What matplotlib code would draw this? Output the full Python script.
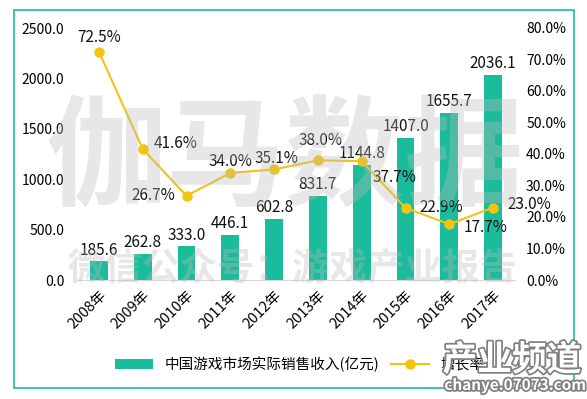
import matplotlib.pyplot as plt
import matplotlib.patheffects as pe
from matplotlib.patches import Rectangle

plt.rcParams['font.family'] = ['Noto Sans CJK SC', 'DejaVu Sans']

years = ["2008年", "2009年", "2010年", "2011年", "2012年",
         "2013年", "2014年", "2015年", "2016年", "2017年"]
revenue = [185.6, 262.8, 333.0, 446.1, 602.8, 831.7, 1144.8, 1407.0, 1655.7, 2036.1]
growth = [72.5, 41.6, 26.7, 34.0, 35.1, 38.0, 37.7, 22.9, 17.7, 23.0]

bar_color = "#1ABC9C"
line_color = "#F1C40F"

fig = plt.figure(figsize=(5.87, 3.99), dpi=100)
ax = fig.add_axes([77 / 587, 1 - 280 / 399, 438 / 587, 252 / 399])
ax2 = ax.twinx()

x = range(len(years))
ax.bar(x, revenue, width=0.41, color=bar_color, zorder=2,
       label="中国游戏市场实际销售收入(亿元)")
for i, v in enumerate(revenue):
    ax.annotate(f"{v:.1f}", (i, v), xytext=(0, 2), textcoords="offset points",
                ha="center", va="bottom", fontsize=11, color="#111111")

ax.set_xlim(-0.5, len(years) - 0.5)
ax.set_ylim(0, 2500)
ax.set_yticks([0, 500, 1000, 1500, 2000, 2500])
ax.set_yticklabels([f"{t:.1f}" for t in ax.get_yticks()])
ax.set_xticks(list(x))
ax.set_xticklabels(years, rotation=45, ha="right", rotation_mode="anchor")
ax.tick_params(length=0, labelsize=10, pad=9)
ax.tick_params(axis="x", pad=6, labelsize=10.5)

ax2.plot(x, growth, color=line_color, marker="o", markersize=6.5, lw=1.5,
         zorder=3, label="增长率")
ax2.set_ylim(0, 80)
ax2.set_yticks(range(0, 81, 10))
ax2.set_yticklabels([f"{t:.1f}%" for t in range(0, 81, 10)])
ax2.tick_params(length=0, labelsize=10, pad=8)

# offsets for growth labels (points)
offs = [(0, 10, "center"), (8, 4, "left"), (-8, 0, "right"), (0, 8, "center"),
        (2, 8, "center"), (2, 14, "center"), (8, -12, "left"), (10, 0, "left"),
        (10, -2, "left"), (10, 2, "left")]
for i, g in enumerate(growth):
    dx, dy, ha = offs[i]
    ax2.annotate(f"{g:.1f}%", (i, g), xytext=(dx, dy), textcoords="offset points",
                 ha=ha, va="center", fontsize=11, color="#111111")

for a in (ax, ax2):
    for s in a.spines.values():
        s.set_visible(False)
ax.spines["bottom"].set_visible(True)
ax.spines["bottom"].set_color("#D9D9D9")

h1, l1 = ax.get_legend_handles_labels()
h2, l2 = ax2.get_legend_handles_labels()
fig.legend(h1 + h2, l1 + l2, loc="center", bbox_to_anchor=(300 / 587, 1 - 364 / 399),
           ncol=2, frameon=False, fontsize=10.5, handlelength=2.6, columnspacing=0.8)

# border
fig.patches.append(Rectangle((14 / 587, 1 - 388 / 399), 560 / 587, 378 / 399,
                             transform=fig.transFigure, fill=False,
                             edgecolor=bar_color, lw=1.2))

# watermarks
fig.text(285 / 587, 1 - 162 / 399, "伽马数据", fontsize=86, color="#BBBBBB",
         alpha=0.35, ha="center", va="center", weight="bold", zorder=5)
fig.text(293 / 587, 1 - 268 / 399, "微信公众号：游戏产业报告", fontsize=27,
         color="#BBBBBB", alpha=0.35, ha="center", va="center", weight="bold", zorder=5)

outline = [pe.withStroke(linewidth=2.5, foreground="#808080")]
fig.text(512 / 587, 1 - 360 / 399, "产业频道", fontsize=25, color="white",
         ha="center", va="center", weight="bold", path_effects=outline, zorder=6)
fig.text(515 / 587, 1 - 385 / 399, "chanye.07073.com", fontsize=11, color="white",
         ha="center", va="center", weight="bold", path_effects=outline, zorder=6)

fig.savefig("out.png", dpi=100)
